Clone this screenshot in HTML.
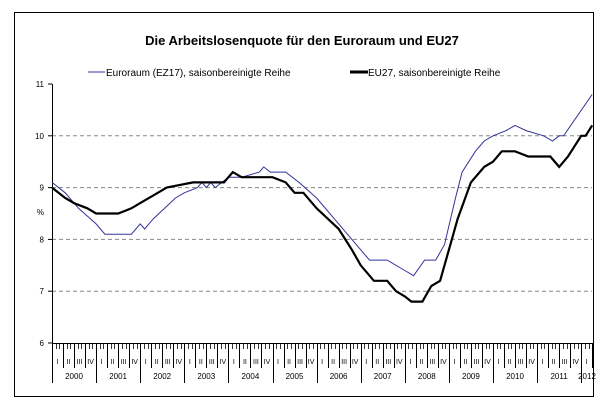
<!DOCTYPE html>
<html><head><meta charset="utf-8"><style>
body{margin:0;background:#fff;}
svg{display:block;font-family:"Liberation Sans",sans-serif;}
</style></head><body>
<svg id="s" width="605" height="410" xmlns="http://www.w3.org/2000/svg">
<rect x="14.5" y="12.5" width="579" height="384" fill="#fff" stroke="#000" stroke-width="1"/>
<text x="302" y="45" text-anchor="middle" font-size="13" font-weight="bold">Die Arbeitslosenquote für den Euroraum und EU27</text>
<line x1="88" y1="72" x2="105" y2="72" stroke="#333399" stroke-width="1"/>
<text x="106" y="76" font-size="10">Euroraum (EZ17), saisonbereinigte Reihe</text>
<line x1="350" y1="72" x2="368" y2="72" stroke="#000" stroke-width="3"/>
<text x="368" y="76" font-size="10">EU27, saisonbereinigte Reihe</text>
<g id="g"></g>
</svg>
<script>
var g=document.getElementById('g'),h='';
function Y(v){return 343-(v-6)*51.8;}
function X(t){return 52+44.1*t;}
for(var v=7;v<=10;v++)h+='<line x1="52" x2="592" y1="'+Y(v)+'" y2="'+Y(v)+'" stroke="#888" stroke-dasharray="4,3" stroke-width="1"/>';
h+='<line x1="52.5" x2="52.5" y1="84" y2="383" stroke="#000"/>';
h+='<line x1="52" x2="593" y1="343.5" y2="343.5" stroke="#000"/>';
for(var v=6;v<=11;v++){h+='<line x1="48" x2="52" y1="'+Y(v)+'" y2="'+Y(v)+'" stroke="#000"/><text x="44" y="'+(Y(v)+3)+'" font-size="8" text-anchor="end">'+v+'</text>';}
h+='<text x="44" y="215" font-size="8" text-anchor="end">%</text>';
var q=['I','II','III','IV'];
for(var m=0;m<=147;m++){var x=52+m*3.675;x=Math.round(x)+0.5;
 var y2=349; if(m%3==0)y2=368; if(m%12==0)y2=383;
 h+='<line x1="'+x+'" x2="'+x+'" y1="343" y2="'+y2+'" stroke="#000" stroke-width="'+(m%3==0?1:0.8)+'"/>';}
for(var k=0;k<49;k++){h+='<text x="'+(52+k*11.025+5.5)+'" y="364" font-size="7" text-anchor="middle">'+q[k%4]+'</text>';}
for(var yr=0;yr<12;yr++)h+='<text x="'+(X(yr)+22)+'" y="379" font-size="8" text-anchor="middle">'+(2000+yr)+'</text>';
h+='<text x="587" y="379" font-size="8" text-anchor="middle">2012</text>';
var b=[[0,9.1],[.3,8.9],[.6,8.6],[1,8.3],[1.2,8.1],[1.8,8.1],[2,8.3],[2.1,8.2],[2.3,8.4],[2.8,8.8],[3,8.9],[3.3,9],[3.4,9.1],[3.5,9],[3.6,9.1],[3.7,9],[4,9.2],[4.3,9.2],[4.7,9.3],[4.8,9.4],[4.95,9.3],[5.3,9.3],[5.6,9.1],[6,8.8],[6.5,8.3],[7,7.8],[7.2,7.6],[7.6,7.6],[8,7.4],[8.2,7.3],[8.45,7.6],[8.7,7.6],[8.9,7.9],[9.15,8.8],[9.3,9.3],[9.6,9.7],[9.8,9.9],[10,10],[10.3,10.1],[10.5,10.2],[10.75,10.1],[11.15,10],[11.35,9.9],[11.5,10],[11.6,10],[12.25,10.8]];
var k2=[[0,9],[.3,8.8],[.5,8.7],[.8,8.6],[1,8.5],[1.5,8.5],[1.8,8.6],[2,8.7],[2.4,8.9],[2.6,9],[3.2,9.1],[3.9,9.1],[4,9.2],[4.1,9.3],[4.3,9.2],[5,9.2],[5.3,9.1],[5.5,8.9],[5.7,8.9],[6,8.6],[6.5,8.2],[6.8,7.8],[7,7.5],[7.3,7.2],[7.6,7.2],[7.8,7],[8,6.9],[8.15,6.8],[8.4,6.8],[8.6,7.1],[8.8,7.2],[9,7.8],[9.2,8.4],[9.5,9.1],[9.8,9.4],[10,9.5],[10.2,9.7],[10.5,9.7],[10.8,9.6],[11.3,9.6],[11.5,9.4],[11.7,9.6],[12,10],[12.1,10],[12.25,10.2]];
function P(a){return a.map(function(p){return X(p[0]).toFixed(1)+','+Y(p[1]).toFixed(1)}).join(' ');}
h+='<polyline fill="none" stroke="#333399" stroke-width="1" points="'+P(b)+'"/>';
h+='<polyline fill="none" stroke="#000" stroke-width="2.2" points="'+P(k2)+'"/>';
g.innerHTML=h;
</script>
</body></html>
